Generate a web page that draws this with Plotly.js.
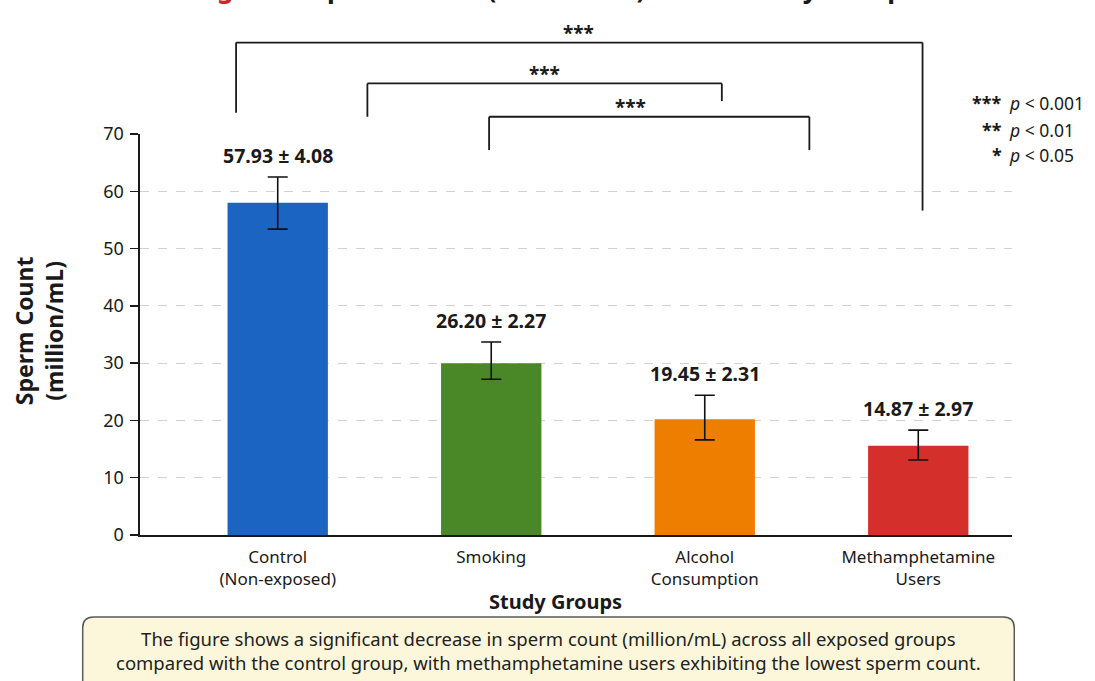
<!DOCTYPE html>
<html>
<head>
<meta charset="utf-8">
<script src="https://cdn.plot.ly/plotly-3.0.1.min.js"></script>
<style>html,body{margin:0;padding:0;background:#fff;}#chart{width:1095px;height:681px;}</style>
</head>
<body>
<div id="chart"></div>
<script>
// ---- data ----
var categories = ["Control<br>(Non-exposed)", "Smoking", "Alcohol<br>Consumption", "Methamphetamine<br>Users"];
var barValues = [58.0, 30.0, 20.2, 15.6];
var errPlus = [4.5, 3.7, 4.2, 2.7];
var errMinus = [4.6, 2.8, 3.6, 2.5];
var labelMean = ["57.93", "26.20", "19.45", "14.87"];
var labelSD = ["4.08", "2.27", "2.31", "2.97"];
var barColors = ["#1c64c2", "#4a8726", "#ee7e00", "#d42f2a"];
var yTicks = [0, 10, 20, 30, 40, 50, 60, 70];
// significance brackets (x in category positions, y in paper units)
var brackets = [
  {x0: -0.195, x1: 3.02, top: 1.228, left: 1.053, right: 0.809, label: "***", lx: 1.41, ly: 1.252},
  {x0: 0.42, x1: 2.08, top: 1.126, left: 1.043, right: 1.082, label: "***", lx: 1.25, ly: 1.150},
  {x0: 0.99, x1: 2.49, top: 1.043, left: 0.960, right: 0.960, label: "***", lx: 1.65, ly: 1.068}
];
var sigKeys = ["***", "**", "*"];
var sigText = ["<i>p</i> < 0.001", "<i>p</i> < 0.01", "<i>p</i> < 0.05"];
var captionText = "The figure shows a significant decrease in sperm count (million/mL) across all exposed groups<br>compared with the control group, with methamphetamine users exhibiting the lowest sperm count.";

var FONT = "Noto Sans, Open Sans, sans-serif";

var trace = {
  type: "bar",
  x: categories,
  y: barValues,
  width: 0.47,
  marker: {color: barColors, line: {width: 0}},
  error_y: {type: "data", symmetric: false, array: errPlus, arrayminus: errMinus,
            color: "#111", thickness: 1.6, width: 10},
  hoverinfo: "none"
};

var shapes = [];
brackets.forEach(function(b) {
  var ln = {color: "#1a1a1a", width: 1.8};
  shapes.push({type: "line", xref: "x", yref: "paper", x0: b.x0, x1: b.x1, y0: b.top, y1: b.top, line: ln});
  shapes.push({type: "line", xref: "x", yref: "paper", x0: b.x0, x1: b.x0, y0: b.top, y1: b.left, line: ln});
  shapes.push({type: "line", xref: "x", yref: "paper", x0: b.x1, x1: b.x1, y0: b.top, y1: b.right, line: ln});
});
// caption box with rounded corners (paper coords)
(function() {
  var L = -0.0657, R = 1.0026, T = -0.2045, B = -0.40, dx = 0.0125, dy = 0.027;
  var p = "M " + (L + dx) + "," + T + " L " + (R - dx) + "," + T +
          " Q " + R + "," + T + " " + R + "," + (T - dy) +
          " L " + R + "," + (B + dy) + " Q " + R + "," + B + " " + (R - dx) + "," + B +
          " L " + (L + dx) + "," + B + " Q " + L + "," + B + " " + L + "," + (B + dy) +
          " L " + L + "," + (T - dy) + " Q " + L + "," + T + " " + (L + dx) + "," + T + " Z";
  shapes.push({type: "path", xref: "paper", yref: "paper", path: p,
               fillcolor: "#fcf7da", line: {color: "#5a5a5a", width: 1.5}, layer: "below"});
})();

var annotations = [];
// value labels above error bars
for (var i = 0; i < categories.length; i++) {
  annotations.push({
    xref: "x", yref: "y", x: i, y: barValues[i] + errPlus[i],
    yanchor: "bottom", xanchor: "center", yshift: 6, showarrow: false,
    text: "<b>" + labelMean[i] + " ± " + labelSD[i] + "</b>",
    font: {family: FONT, size: 19.5, color: "#1a1a1a"}
  });
}
// bracket stars
brackets.forEach(function(b) {
  annotations.push({xref: "x", yref: "paper", x: b.lx, y: b.ly, showarrow: false,
    text: "<b>" + b.label + "</b>", font: {family: FONT, size: 19, color: "#1a1a1a"},
    xanchor: "center", yanchor: "middle"});
});
// significance key
var keyY = [1.077, 1.010, 0.948];
for (var k = 0; k < sigKeys.length; k++) {
  annotations.push({xref: "paper", yref: "paper", x: 0.991, y: keyY[k], showarrow: false,
    text: "<b>" + sigKeys[k] + "</b>", xanchor: "right", yanchor: "middle",
    font: {family: FONT, size: 18, color: "#1a1a1a"}});
  annotations.push({xref: "paper", yref: "paper", x: 0.994, y: keyY[k], showarrow: false,
    text: sigText[k], xanchor: "left", yanchor: "middle",
    font: {family: FONT, size: 17.5, color: "#1a1a1a"}});
}
// axis titles
annotations.push({xref: "paper", yref: "paper", x: 0.476, y: -0.165, showarrow: false,
  text: "<b>Study Groups</b>", xanchor: "center", yanchor: "middle",
  font: {family: FONT, size: 20, color: "#1a1a1a"}});
annotations.push({xref: "paper", yref: "paper", x: -0.115, y: 0.51, showarrow: false,
  text: "<b>Sperm Count<br>(million/mL)</b>", textangle: -90, xanchor: "center", yanchor: "middle",
  font: {family: FONT, size: 23, color: "#1a1a1a"}});
// caption
annotations.push({xref: "paper", yref: "paper", x: 0.468, y: -0.289, showarrow: false,
  text: captionText, xanchor: "center", yanchor: "middle", align: "center",
  font: {family: FONT, size: 18.5, color: "#222"}});
// title (mostly cut off at top, as in the reference)
annotations.push({xref: "paper", yref: "paper", x: 0.477, y: 1.313, showarrow: false,
  text: "<b><span style='color:#c62828'>Figure 1.</span> Sperm Count (million/mL) Across Study Groups</b>",
  xanchor: "center", yanchor: "bottom", font: {family: FONT, size: 26, color: "#1a1a1a"}});

var layout = {
  width: 1095, height: 681, autosize: false,
  margin: {l: 140, r: 83, t: 134, b: 146, pad: 0},
  paper_bgcolor: "#ffffff", plot_bgcolor: "#ffffff",
  showlegend: false,
  bargap: 0.5,
  xaxis: {
    type: "category", range: [-0.645, 3.439], showgrid: false, zeroline: false,
    showline: true, linecolor: "#1a1a1a", linewidth: 1.6, ticks: "",
    ticklabelstandoff: 6,
    tickfont: {family: FONT, size: 17, color: "#1a1a1a"}, fixedrange: true
  },
  yaxis: {
    range: [0, 70], tickvals: yTicks, showgrid: true, gridcolor: "#d2d2d2", griddash: "dash",
    gridwidth: 1, zeroline: false, showline: true, linecolor: "#1a1a1a", linewidth: 1.6,
    ticks: "outside", ticklen: 8, tickwidth: 1.5, tickcolor: "#1a1a1a",
    ticklabelstandoff: 3,
    tickfont: {family: FONT, size: 18, color: "#1a1a1a"}, fixedrange: true
  },
  shapes: shapes,
  annotations: annotations
};

Plotly.newPlot("chart", [trace], layout, {displayModeBar: false, staticPlot: true});
</script>
</body>
</html>
